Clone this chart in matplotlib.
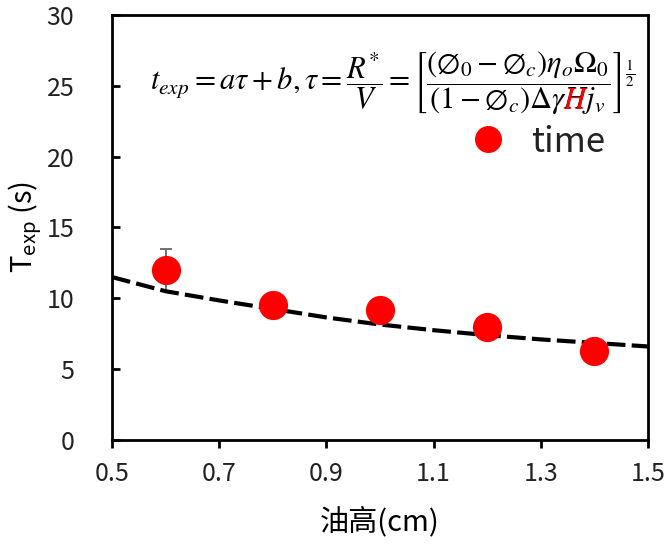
import matplotlib
matplotlib.use("Agg")
import matplotlib.pyplot as plt
from matplotlib.font_manager import FontProperties
from matplotlib.mathtext import MathTextParser

plt.rcParams['font.family'] = ['Noto Sans CJK TC', 'DejaVu Sans']
plt.rcParams['font.weight'] = 'light'

# measured points
height_cm = [0.6, 0.8, 1.0, 1.2, 1.4]
t_exp = [12.0, 9.5, 9.2, 8.0, 6.3]
t_err = [1.5, 0, 0, 0, 0]

# dashed fit curve
fit_x = [0.5, 0.6, 0.7, 0.8, 0.9, 1.0, 1.1, 1.2, 1.3, 1.4, 1.5]
fit_y = [11.5, 10.5, 9.85, 9.25, 8.65, 8.15, 7.75, 7.4, 7.1, 6.85, 6.6]

xticks = [0.5, 0.7, 0.9, 1.1, 1.3, 1.5]
yticks = [0, 5, 10, 15, 20, 25, 30]

DPI = 100
W, H = 669, 551
fig = plt.figure(figsize=(W / DPI, H / DPI), dpi=DPI)
ax = fig.add_axes([0.1674, 0.2015, 0.8012, 0.7713])

ax.plot(fit_x, fit_y, color='black', lw=3, ls=(0, (4.5, 1.5)), zorder=2)
ax.errorbar(height_cm[:1], t_exp[:1], yerr=t_err[:1], fmt='none', ecolor='#707070',
            elinewidth=1.4, capsize=4.5, capthick=1.4, zorder=1)
ax.plot(height_cm, t_exp, 'o', color='#ff0000', ms=20, ls='none', label='time', zorder=3)

ax.set_xlim(0.5, 1.5)
ax.set_ylim(0, 30)
ax.set_xticks(xticks)
ax.set_xticklabels(['%.1f' % v for v in xticks])
ax.set_yticks(yticks)
for s in ax.spines.values():
    s.set_linewidth(2)
ax.tick_params(axis='x', direction='out', length=6, width=2, labelsize=18, pad=9)
ax.tick_params(axis='y', direction='in', length=6, width=2, labelsize=18, pad=27)
for lab in ax.get_xticklabels() + ax.get_yticklabels():
    lab.set_color('#222222')

ax.set_xlabel('油高(cm)', fontsize=21, labelpad=14)
ax.set_ylabel(r'$\mathregular{T_{exp}}$ (s)', fontsize=21, labelpad=2)

formula = (r'$t_{exp}=a\tau+b,\tau=\dfrac{R^{*}}{V}=\left[\dfrac{(\emptyset_0-\emptyset_c)\eta_o\Omega_0}'
           r'{(1-\emptyset_c)\Delta\gamma Hj_v}\right]^{\frac{1}{2}}$')
fsize = 22
cx, cy = 393, H - 83   # centre of the formula, figure pixels
fig.text(cx / W, cy / H, formula, fontsize=fsize, math_fontfamily='stix',
         ha='center', va='center')

# find where the H sits inside the formula, then paint it red on top
hx, hy = 565, H - 106
try:
    prop = FontProperties(size=fsize, math_fontfamily='stix')
    vp = MathTextParser('path').parse(formula, dpi=72, prop=prop)
    k = DPI / 72
    for g in vp.glyphs:
        if g[2] in (ord('H'), 0x1D43B):
            ox, oy = g[-2], g[-1]
            hx = cx - vp.width * k / 2 + ox * k
            hy = cy - vp.height * k / 2 + (oy + vp.depth) * k
            break
except Exception:
    pass
fig.text(hx / W, hy / H, r'$H$', fontsize=fsize, math_fontfamily='stix',
         color='#ff0000', ha='left', va='baseline')

leg = ax.legend(loc='center left', bbox_to_anchor=(453 / W, (H - 142) / H),
                bbox_transform=fig.transFigure, frameon=False, fontsize=25,
                handlelength=2.0, handletextpad=0.25, borderpad=0, borderaxespad=0,
                markerscale=0.92)
for t in leg.get_texts():
    t.set_color('#222222')

fig.savefig('out.png', dpi=DPI)
